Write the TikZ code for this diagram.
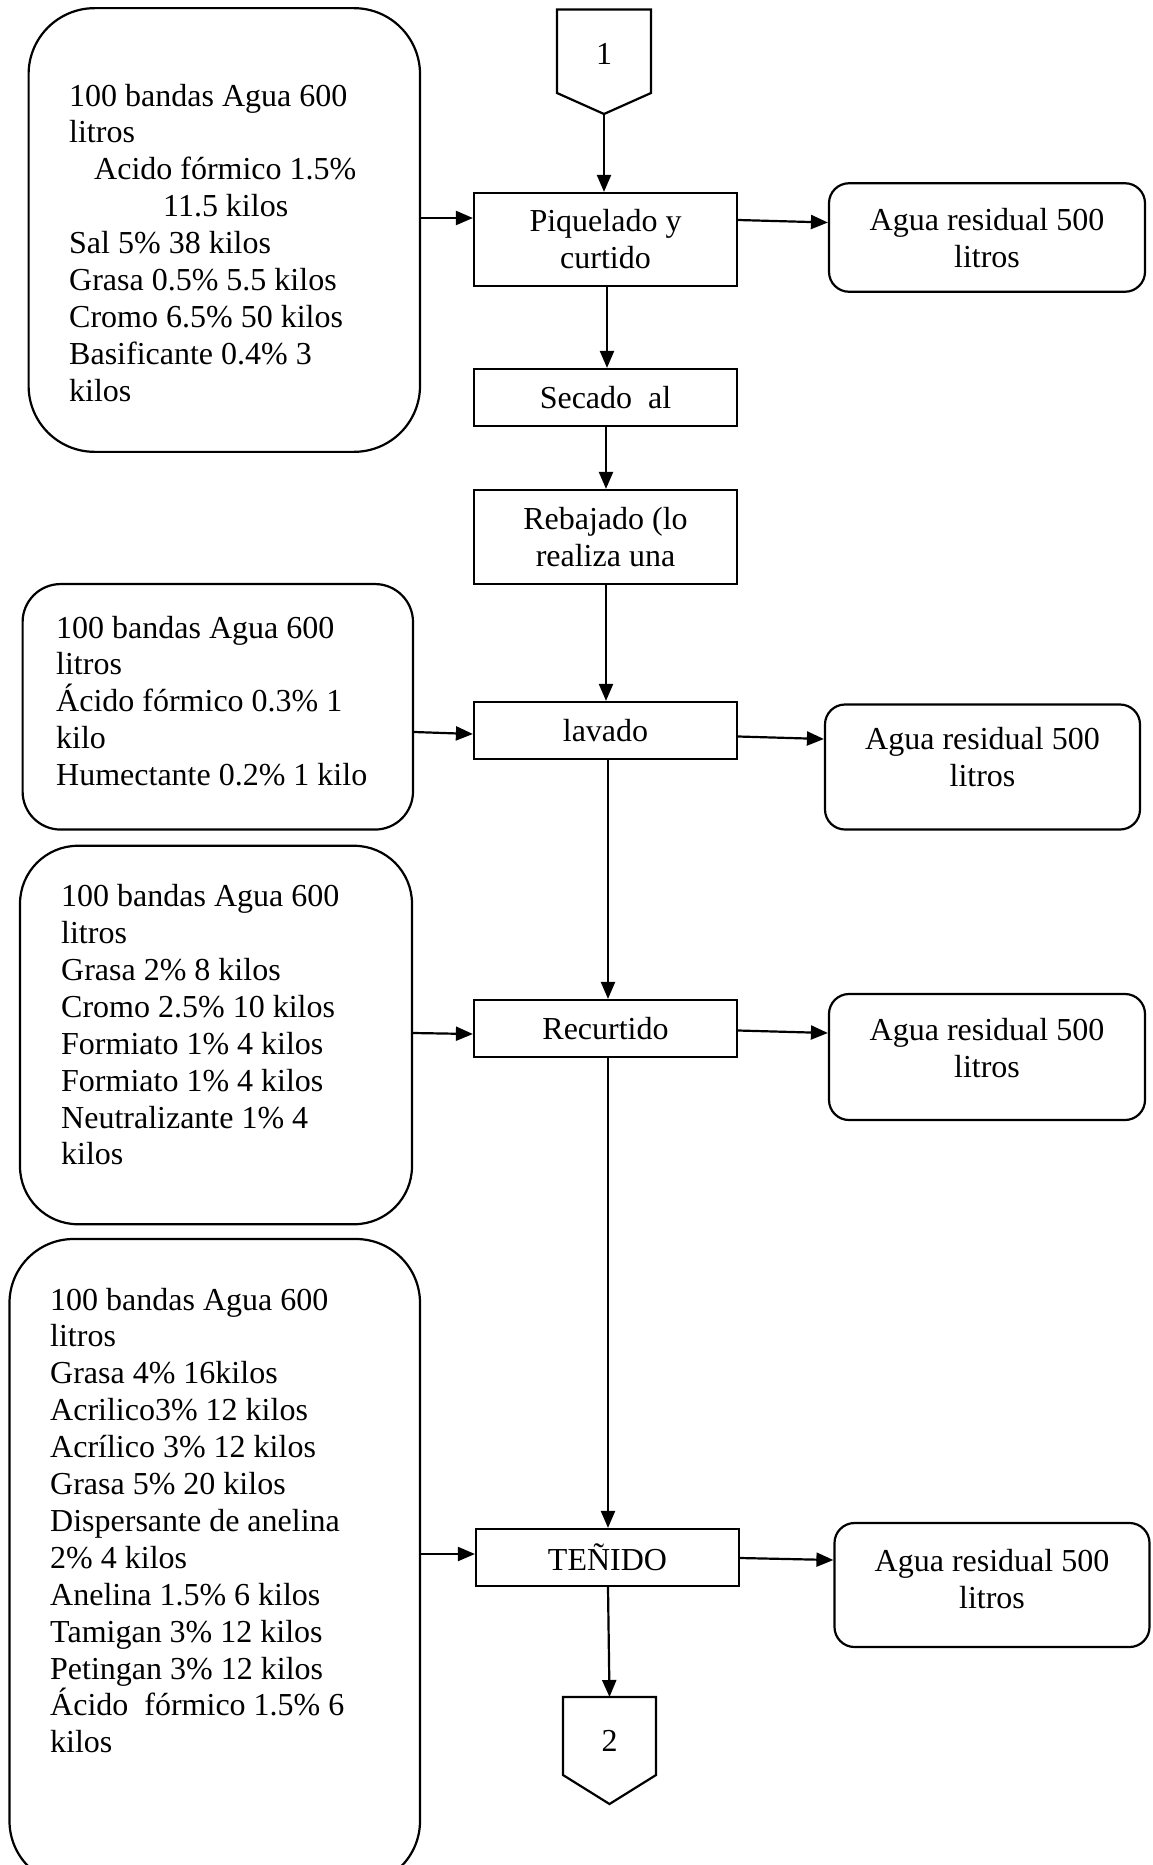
\documentclass[tikz,border=0pt]{standalone}
\usepackage{fontspec}
\setmainfont{Liberation Serif}
\usetikzlibrary{arrows.meta}
\newcommand\myfs{\fontsize{32}{36.9}\selectfont}
\begin{document}
\begin{tikzpicture}[x=1pt,y=-1pt,
  lw/.style={line width=2.2pt},
  proc/.style={lw, draw, rectangle, minimum width=263pt, inner sep=0pt, align=center, font=\myfs},
  waste/.style={lw, draw, rectangle, rounded corners=20pt, minimum width=316pt, inner sep=0pt},
  inbox/.style={lw, draw, rectangle, inner sep=0pt},
  txt/.style={inner sep=0pt, align=center, font=\myfs},
  ltxt/.style={inner sep=0pt, align=left, font=\myfs, anchor=north west},
  arr/.style={lw, -{Triangle[length=17pt,width=14pt]}}
]
\useasboundingbox (0,0) rectangle (1153,1865);
\clip (0,0) rectangle (1153,1865);

% off-page connector 1
\draw[lw] (557,9.5) -- (651,9.5) -- (651,93) -- (604,114) -- (557,93) -- cycle;
\node[txt] (c1) at (604,53.5) {1};
\coordinate (c1tip) at (604,114);

% input boxes
\node[inbox, rounded corners=66pt, minimum width=391.4pt, minimum height=443.7pt] (in1) at (224.3,230) {};
\node[ltxt] (t1) at (69,80) {\strut 100 bandas Agua 600\\litros\\\hspace*{25pt}Acido fórmico 1.5\%\\\hspace*{94pt}11.5 kilos\\Sal 5\%  38 kilos\\Grasa 0.5\% 5.5 kilos\\Cromo 6.5\% 50 kilos\\Basificante 0.4\% 3\\kilos};

\node[inbox, rounded corners=38pt, minimum width=390.4pt, minimum height=245.5pt] (in2) at (217.8,706.8) {};
\node[ltxt] (t2) at (56,612) {\strut 100 bandas Agua 600\\litros\\Ácido fórmico 0.3\% 1\\kilo\\Humectante 0.2\% 1 kilo};

\node[inbox, rounded corners=58pt, minimum width=392pt, minimum height=378.5pt] (in3) at (216,1035) {};
\node[ltxt] (t3) at (61,880.6) {\strut 100 bandas Agua 600\\litros\\Grasa 2\% 8 kilos\\Cromo 2.5\% 10 kilos\\Formiato 1\% 4 kilos\\Formiato 1\% 4 kilos\\Neutralizante 1\% 4\\kilos};

\node[inbox, rounded corners=64pt, minimum width=410.5pt, minimum height=646pt] (in4) at (214.75,1562) {};
\node[ltxt] (t4) at (50,1284) {\strut 100 bandas Agua 600\\litros\\Grasa 4\% 16kilos\\Acrilico3\% 12 kilos\\Acrílico 3\% 12 kilos\\Grasa 5\% 20 kilos\\Dispersante de anelina\\2\% 4 kilos\\Anelina 1.5\% 6 kilos\\Tamigan 3\% 12 kilos\\Petingan 3\% 12 kilos\\Ácido\ \ fórmico 1.5\% 6\\kilos};

% process boxes
\node[proc, minimum height=93pt] (piq) at (605.5,239.5) {Piquelado y\\curtido};
\node[proc, minimum height=57pt] (sec) at (605.5,397.5) {Secado\ \ al};
\node[proc, minimum height=94pt] (reb) at (605.5,537) {Rebajado (lo\\realiza una};
\node[proc, minimum height=57pt] (lav) at (605.5,730.5) {lavado};
\node[proc, minimum height=57pt] (rec) at (605.5,1028.5) {Recurtido};
\node[proc, minimum height=57pt] (ten) at (607.5,1557.5) {TEÑIDO};

% waste boxes
\node[waste, minimum height=108.5pt] (w1) at (987,237.5) {};
\node[txt] (wt1) at (987,238.5) {Agua residual 500\\litros};
\node[waste, minimum width=315pt, minimum height=125pt] (w2) at (982.5,767) {};
\node[txt] (wt2) at (982.5,757) {Agua residual 500\\litros};
\node[waste, minimum height=126pt] (w3) at (987,1057) {};
\node[txt] (wt3) at (987,1048) {Agua residual 500\\litros};
\node[waste, minimum width=315pt, minimum height=124pt] (w4) at (992,1585) {};
\node[txt] (wt4) at (992,1579) {Agua residual 500\\litros};

% off-page connector 2
\draw[lw] (563,1697) -- (656,1697) -- (656,1775) -- (609.5,1804) -- (563,1775) -- cycle;
\node[txt] (c2) at (609.5,1741) {2};
\coordinate (c2top) at (609.5,1697);

% vertical flow
\draw[arr] (c1tip) -- (piq.north -| c1tip);
\draw[arr] (piq.south -| 607,0) -- (sec.north -| 607,0);
\draw[arr] (sec.south -| 606,0) -- (reb.north -| 606,0);
\draw[arr] (reb.south -| 606,0) -- (lav.north -| 606,0);
\draw[arr] (lav.south -| 608,0) -- (rec.north -| 608,0);
\draw[arr] (rec.south -| 608,0) -- (ten.north -| 608,0);
\draw[arr] (ten.south -| 608,0) -- (c2top);

% inputs
\draw[arr] (in1.east |- 0,218) -- (piq.west |- 0,218);
\draw[arr] (in2.east |- 0,732) -- (lav.west |- 0,734);
\draw[arr] (in3.east |- 0,1033) -- (rec.west |- 0,1034);
\draw[arr] (in4.east |- 0,1554) -- (ten.west |- 0,1554);

% outputs
\draw[arr] (piq.east |- 0,220) -- (w1.west |- 0,222.5);
\draw[arr] (lav.east |- 0,736.5) -- (w2.west |- 0,739);
\draw[arr] (rec.east |- 0,1030.5) -- (w3.west |- 0,1033);
\draw[arr] (ten.east |- 0,1558) -- (w4.west |- 0,1560);
\end{tikzpicture}
\end{document}
